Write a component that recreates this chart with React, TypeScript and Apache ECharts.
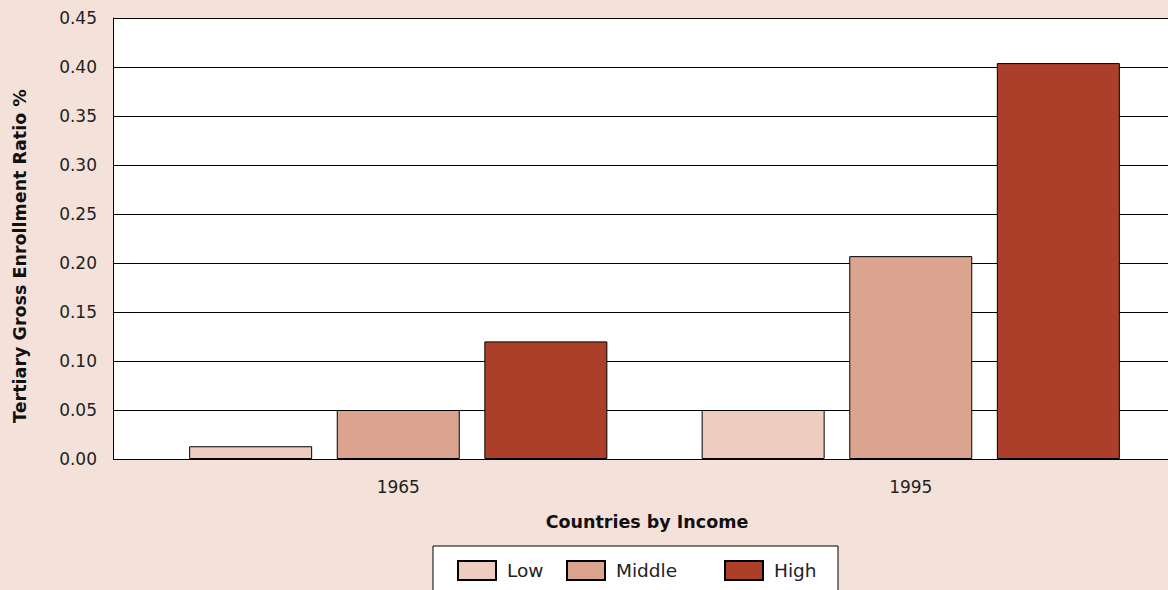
import React, { useEffect, useRef } from "react";
import * as echarts from "echarts";

const categories = ["1965", "1995"];
const seriesNames = ["Low", "Middle", "High"];
const lowValues = [0.013, 0.05];
const middleValues = [0.05, 0.207];
const highValues = [0.12, 0.404];
const yTicks = { min: 0, max: 0.45, interval: 0.05 };
const colors = ["#edcdbf", "#dba48f", "#ab3f2a"];

const FONT = "'DejaVu Sans', 'Noto Sans', sans-serif";

export default function App() {
  const ref = useRef<HTMLDivElement>(null);
  useEffect(() => {
    if (!ref.current) return;
    const chart = echarts.init(ref.current, null, { renderer: "svg" });
    const values = [lowValues, middleValues, highValues];
    const legendLefts = [457, 566, 724];
    chart.setOption({
      animation: false,
      backgroundColor: "#f4e2da",
      textStyle: { fontFamily: FONT },
      grid: [
        { left: 113, right: 0, top: 18, bottom: 131, show: true, backgroundColor: "#ffffff", borderWidth: 0 },
        { left: 142, right: 1, top: 18, bottom: 131 },
      ],
      xAxis: [
        { type: "category", gridIndex: 0, data: categories, show: false },
        {
          type: "category",
          gridIndex: 1,
          data: categories,
          axisTick: { show: false },
          axisLine: { show: false },
          axisLabel: { fontSize: 17, color: "#222", margin: 19, fontFamily: FONT },
        },
      ],
      yAxis: [
        {
          type: "value",
          gridIndex: 0,
          min: yTicks.min,
          max: yTicks.max,
          interval: yTicks.interval,
          axisLine: { show: true, lineStyle: { color: "#000", width: 1 } },
          axisTick: { show: false },
          axisLabel: {
            fontSize: 17,
            color: "#222",
            margin: 16,
            fontFamily: FONT,
            formatter: (v: number) => v.toFixed(2),
          },
          splitLine: { show: true, lineStyle: { color: "#000", width: 1 } },
        },
        { type: "value", gridIndex: 1, min: yTicks.min, max: yTicks.max, interval: yTicks.interval, show: false },
      ],
      legend: seriesNames.map((n, i) => ({
        data: [n],
        left: legendLefts[i],
        top: 560,
        padding: 0,
        itemWidth: 38,
        itemHeight: 19,
        icon: "rect",
        itemGap: 10,
        textStyle: { fontSize: 18.5, color: "#222", fontFamily: FONT, padding: [0, 0, 0, 6] },
        z: 5,
      })),
      graphic: [
        {
          type: "rect",
          shape: { x: 433, y: 546, width: 405, height: 52 },
          style: { fill: "#ffffff", stroke: "#000", lineWidth: 1 },
          z: 1,
        },
        {
          type: "text",
          x: 647,
          y: 522,
          style: {
            text: "Countries by Income",
            font: `bold 17.5px ${FONT}`,
            fill: "#111",
            textAlign: "center",
            textVerticalAlign: "middle",
          },
        },
        {
          type: "text",
          x: 20,
          y: 256,
          rotation: Math.PI / 2,
          style: {
            text: "Tertiary Gross Enrollment Ratio %",
            font: `bold 17.5px ${FONT}`,
            fill: "#111",
            textAlign: "center",
            textVerticalAlign: "middle",
          },
        },
      ],
      series: seriesNames.map((n, i) => ({
        name: n,
        type: "bar",
        xAxisIndex: 1,
        yAxisIndex: 1,
        data: values[i],
        barWidth: 123,
        barGap: "20%",
        itemStyle: { color: colors[i], borderColor: "#000", borderWidth: 1 },
      })),
    });
    return () => chart.dispose();
  }, []);
  return (
    <div
      ref={ref}
      style={{ position: "fixed", left: 0, top: 0, width: 1168, height: 590 }}
    />
  );
}
